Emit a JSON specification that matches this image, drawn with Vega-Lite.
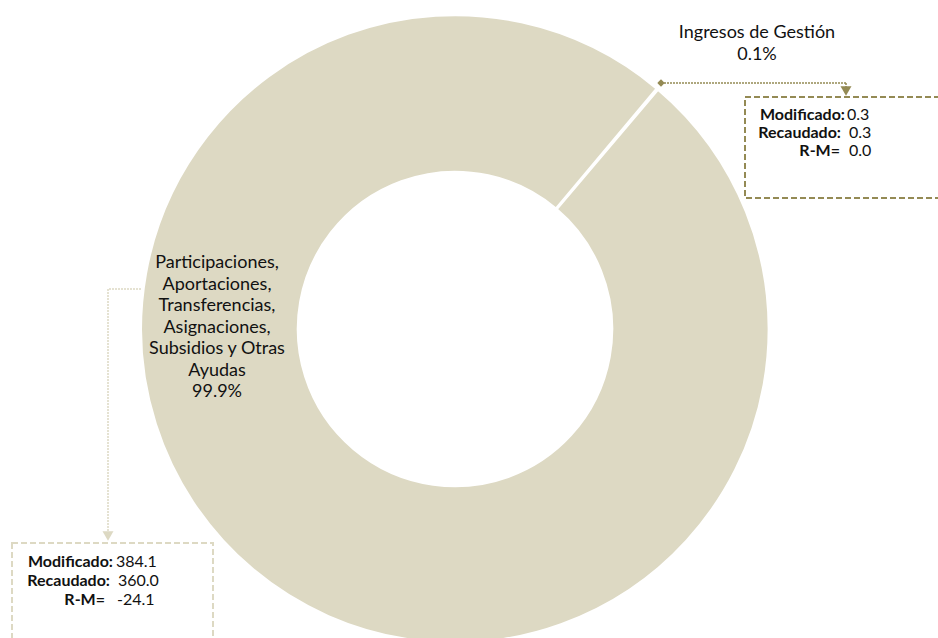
{
  "$schema": "https://vega.github.io/schema/vega-lite/v6.json",
  "width": 938,
  "height": 638,
  "autosize": "none",
  "padding": 0,
  "background": "#ffffff",
  "config": {"view": {"stroke": null}, "text": {"font": "Lato"}},
  "datasets": {
    "slices": [
      {"cat": "Ingresos de Gestión", "ord": 1, "modificado": 0.3, "recaudado": 0.3},
      {"cat": "Participaciones, Aportaciones, Transferencias, Asignaciones, Subsidios y Otras Ayudas", "ord": 2, "modificado": 384.1, "recaudado": 360.0}
    ],
    "labels": [
      {"t": "Ingresos de Gestión", "x": 757, "y": 33},
      {"t": "0.1%", "x": 757, "y": 55},
      {"t": "Participaciones,", "x": 217, "y": 263},
      {"t": "Aportaciones,", "x": 217, "y": 285},
      {"t": "Transferencias,", "x": 217, "y": 306},
      {"t": "Asignaciones,", "x": 217, "y": 328},
      {"t": "Subsidios y Otras", "x": 217, "y": 349},
      {"t": "Ayudas", "x": 217, "y": 371},
      {"t": "99.9%", "x": 217, "y": 392}
    ],
    "boldLabels": [
      {"t": "Modificado:", "x": 845, "y": 115},
      {"t": "Recaudado:", "x": 841, "y": 133},
      {"t": "R-M=", "x": 840, "y": 151},
      {"t": "Modificado:", "x": 113, "y": 562},
      {"t": "Recaudado:", "x": 110, "y": 581},
      {"t": "R-M=", "x": 105, "y": 600}
    ],
    "valueLabels": [
      {"t": "0.3", "x": 847, "y": 115},
      {"t": "0.3", "x": 849, "y": 133},
      {"t": "0.0", "x": 849, "y": 151},
      {"t": "384.1", "x": 116, "y": 562},
      {"t": "360.0", "x": 118, "y": 581},
      {"t": "-24.1", "x": 117, "y": 600}
    ],
    "connectors": [
      {"cat": "Ingresos de Gestión", "x": 664, "y": 83, "x2": 846, "y2": 83},
      {"cat": "Ingresos de Gestión", "x": 846, "y": 83, "x2": 846, "y2": 90},
      {"cat": "Participaciones, Aportaciones, Transferencias, Asignaciones, Subsidios y Otras Ayudas", "x": 141, "y": 289, "x2": 108, "y2": 289},
      {"cat": "Participaciones, Aportaciones, Transferencias, Asignaciones, Subsidios y Otras Ayudas", "x": 108, "y": 289, "x2": 108, "y2": 531}
    ],
    "arrows": [
      {"cat": "Ingresos de Gestión", "x": 846, "y": 91},
      {"cat": "Participaciones, Aportaciones, Transferencias, Asignaciones, Subsidios y Otras Ayudas", "x": 108, "y": 536}
    ],
    "boxes": [
      {"cat": "Ingresos de Gestión", "x": 745, "y": 97, "x2": 950, "y2": 198},
      {"cat": "Participaciones, Aportaciones, Transferencias, Asignaciones, Subsidios y Otras Ayudas", "x": 12, "y": 543, "x2": 213, "y2": 660}
    ],
    "dots": [
      {"cat": "Ingresos de Gestión", "x": 661, "y": 83}
    ]
  },
  "layer": [
    {
      "data": {"name": "slices"},
      "mark": {"type": "arc", "radius": 314, "radius2": 157, "stroke": "#ffffff", "strokeWidth": 2.5},
      "encoding": {
        "x": {"datum": 455, "type": "quantitative", "scale": {"domain": [0, 938], "nice": false, "zero": false}, "axis": null},
        "y": {"datum": 329, "type": "quantitative", "scale": {"domain": [0, 638], "nice": false, "zero": false, "reverse": true}, "axis": null},
        "theta": {"field": "recaudado", "type": "quantitative", "stack": true, "scale": {"range": [0.698, 6.9812]}},
        "order": {"field": "ord", "type": "quantitative"},
        "color": {"field": "cat", "type": "nominal", "legend": null,
          "scale": {"domain": ["Ingresos de Gestión", "Participaciones, Aportaciones, Transferencias, Asignaciones, Subsidios y Otras Ayudas"], "range": ["#948A54", "#DDD9C3"]}}
      }
    },
    {
      "data": {"name": "connectors"},
      "mark": {"type": "rule", "strokeWidth": 1.5, "strokeDash": [2, 1]},
      "encoding": {
        "x": {"field": "x", "type": "quantitative"},
        "y": {"field": "y", "type": "quantitative"},
        "x2": {"field": "x2"},
        "y2": {"field": "y2"},
        "color": {"field": "cat", "type": "nominal", "legend": null}
      }
    },
    {
      "data": {"name": "arrows"},
      "mark": {"type": "point", "shape": "triangle-down", "filled": true, "size": 120, "opacity": 1},
      "encoding": {
        "x": {"field": "x", "type": "quantitative"},
        "y": {"field": "y", "type": "quantitative"},
        "color": {"field": "cat", "type": "nominal", "legend": null}
      }
    },
    {
      "data": {"name": "dots"},
      "mark": {"type": "point", "shape": "diamond", "filled": true, "size": 55, "opacity": 1},
      "encoding": {
        "x": {"field": "x", "type": "quantitative"},
        "y": {"field": "y", "type": "quantitative"},
        "color": {"field": "cat", "type": "nominal", "legend": null}
      }
    },
    {
      "data": {"name": "boxes"},
      "mark": {"type": "rect", "filled": false, "strokeWidth": 2, "strokeDash": [6, 3]},
      "encoding": {
        "x": {"field": "x", "type": "quantitative"},
        "y": {"field": "y", "type": "quantitative"},
        "x2": {"field": "x2"},
        "y2": {"field": "y2"},
        "color": {"field": "cat", "type": "nominal", "legend": null}
      }
    },
    {
      "data": {"name": "labels"},
      "mark": {"type": "text", "font": "Lato", "fontSize": 18, "align": "center", "baseline": "middle", "color": "#111111"},
      "encoding": {
        "x": {"field": "x", "type": "quantitative"},
        "y": {"field": "y", "type": "quantitative"},
        "text": {"field": "t"}
      }
    },
    {
      "data": {"name": "boldLabels"},
      "mark": {"type": "text", "font": "Lato", "fontSize": 16, "fontWeight": "bold", "align": "right", "baseline": "middle", "color": "#111111"},
      "encoding": {
        "x": {"field": "x", "type": "quantitative"},
        "y": {"field": "y", "type": "quantitative"},
        "text": {"field": "t"}
      }
    },
    {
      "data": {"name": "valueLabels"},
      "mark": {"type": "text", "font": "Lato", "fontSize": 16, "align": "left", "baseline": "middle", "color": "#111111"},
      "encoding": {
        "x": {"field": "x", "type": "quantitative"},
        "y": {"field": "y", "type": "quantitative"},
        "text": {"field": "t"}
      }
    }
  ]
}
